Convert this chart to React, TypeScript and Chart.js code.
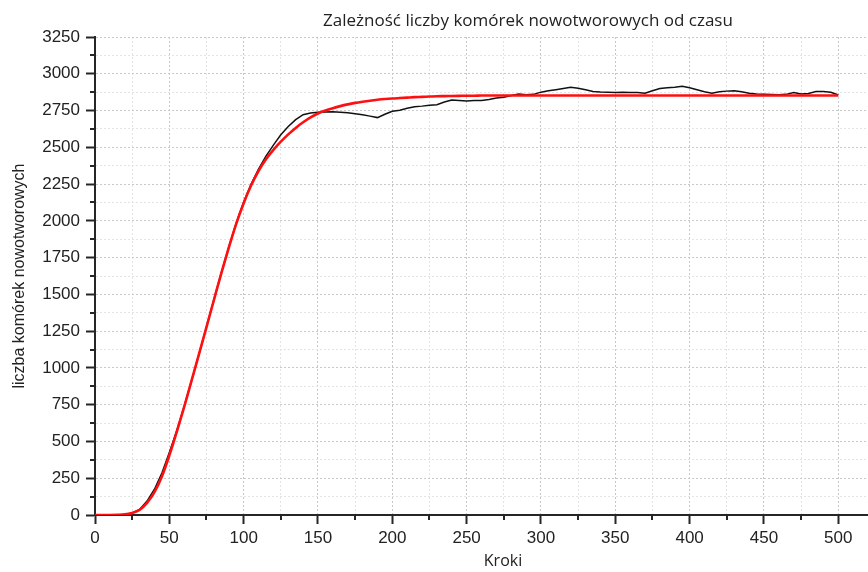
import React, { useEffect, useRef } from "react";
import { Chart, registerables } from "chart.js";

Chart.register(...registerables);

const chartTitle = "Zależność liczby komórek nowotworowych od czasu";
const xAxisTitle = "Kroki";
const yAxisTitle = "liczba komórek nowotworowych";

const steps = [
  0, 5, 10, 15, 20, 25, 30, 35, 40, 45, 50, 55, 60, 65, 70, 75, 80, 85, 90, 95,
  100, 105, 110, 115, 120, 125, 130, 135, 140, 145, 150, 155, 160, 165, 170, 175, 180, 185, 190, 195,
  200, 205, 210, 215, 220, 225, 230, 235, 240, 245, 250, 255, 260, 265, 270, 275, 280, 285, 290, 295,
  300, 305, 310, 315, 320, 325, 330, 335, 340, 345, 350, 355, 360, 365, 370, 375, 380, 385, 390, 395,
  400, 405, 410, 415, 420, 425, 430, 435, 440, 445, 450, 455, 460, 465, 470, 475, 480, 485, 490, 495,
  500,
];

const simulatedCells = [
  0, 0, 0, 1, 4, 14, 38, 95, 175, 285, 425, 575, 740, 915, 1095, 1280, 1465, 1648, 1822, 1985,
  2128, 2250, 2352, 2440, 2515, 2585, 2642, 2688, 2722, 2733, 2738, 2740, 2742, 2738, 2735, 2728, 2722, 2712, 2702, 2725,
  2745, 2752, 2765, 2776, 2780, 2786, 2790, 2808, 2822, 2818, 2815, 2818, 2818, 2825, 2835, 2840, 2852, 2862, 2858, 2860,
  2875, 2885, 2892, 2900, 2908, 2902, 2892, 2880, 2876, 2874, 2873, 2875, 2872, 2873, 2867, 2885, 2900, 2905, 2908, 2915,
  2905, 2892, 2878, 2867, 2878, 2882, 2885, 2878, 2867, 2862, 2860, 2859, 2858, 2860, 2873, 2862, 2866, 2879, 2880, 2874,
  2856,
];

const fittedCells = [
  0, 0, 0, 1, 4, 14, 35, 82, 155, 262, 405, 565, 735, 915, 1095, 1278, 1462, 1645, 1818, 1980,
  2120, 2240, 2338, 2418, 2482, 2538, 2588, 2632, 2670, 2703, 2730, 2750, 2766, 2780, 2792, 2802, 2810, 2817, 2823, 2828,
  2832, 2835, 2838, 2841, 2843, 2845, 2847, 2848, 2849, 2850, 2851, 2851, 2852, 2852, 2852, 2852, 2852, 2852, 2852, 2852,
  2852, 2852, 2852, 2852, 2852, 2852, 2852, 2852, 2852, 2852, 2852, 2852, 2852, 2852, 2852, 2852, 2852, 2852, 2852, 2852,
  2852, 2852, 2852, 2852, 2852, 2852, 2852, 2852, 2852, 2852, 2852, 2852, 2852, 2852, 2852, 2852, 2852, 2852, 2852, 2852,
  2852,
];

const xTickValues = [
  0, 25, 50, 75, 100, 125, 150, 175, 200, 225, 250, 275, 300, 325, 350, 375, 400, 425, 450, 475, 500,
];
const yTickValues = [
  0, 125, 250, 375, 500, 625, 750, 875, 1000, 1125, 1250, 1375, 1500, 1625, 1750, 1875, 2000, 2125,
  2250, 2375, 2500, 2625, 2750, 2875, 3000, 3125, 3250,
];
const xMajorStep = 50;
const yMajorStep = 250;

const TICK_FONT = "'Liberation Sans', Arial, sans-serif";
const AXIS_COLOR = "#262626";

const decorPlugin = {
  id: "decor",
  afterDraw(chart: any) {
    const { ctx, chartArea } = chart;
    const xs = chart.scales.x;
    const ys = chart.scales.y;
    ctx.save();
    ctx.strokeStyle = AXIS_COLOR;
    ctx.lineWidth = 2;
    ctx.beginPath();
    xTickValues.forEach((v) => {
      if (v % xMajorStep !== 0) {
        const px = Math.round(xs.getPixelForValue(v));
        ctx.moveTo(px, chartArea.bottom);
        ctx.lineTo(px, chartArea.bottom + 5);
      }
    });
    yTickValues.forEach((v) => {
      if (v % yMajorStep !== 0) {
        const py = Math.round(ys.getPixelForValue(v));
        ctx.moveTo(chartArea.left, py);
        ctx.lineTo(chartArea.left - 5, py);
      }
    });
    ctx.stroke();

    ctx.fillStyle = "#222";
    ctx.textAlign = "center";
    ctx.textBaseline = "middle";
    ctx.font = "17px 'Open Sans', sans-serif";
    ctx.fillText(chartTitle, 528, 21);
    ctx.font = "16px 'Open Sans', sans-serif";
    ctx.fillText(xAxisTitle, 503, 561);
    ctx.translate(20, 276);
    ctx.rotate(-Math.PI / 2);
    ctx.font = "16px " + TICK_FONT;
    ctx.fillText(yAxisTitle, 0, 0);
    ctx.restore();
  },
};

export default function App() {
  const ref = useRef<HTMLCanvasElement | null>(null);

  useEffect(() => {
    document.body.style.margin = "0";
    const canvas = ref.current;
    if (!canvas) return;
    const chart = new Chart(canvas, {
      type: "line",
      data: {
        datasets: [
          {
            label: "fit",
            data: steps.map((s, i) => ({ x: s, y: fittedCells[i] })),
            borderColor: "#ff1010",
            borderWidth: 2.6,
            pointRadius: 0,
            cubicInterpolationMode: "monotone",
            order: 0,
          },
          {
            label: "symulacja",
            data: steps.map((s, i) => ({ x: s, y: simulatedCells[i] })),
            borderColor: "#111111",
            borderWidth: 1.5,
            pointRadius: 0,
            tension: 0,
            order: 1,
          },
        ],
      },
      options: {
        responsive: false,
        animation: false,
        layout: { padding: { top: 37, right: 0, bottom: 0, left: 0 } },
        plugins: {
          legend: { display: false },
          title: { display: false },
          tooltip: { enabled: false },
        },
        scales: {
          x: {
            type: "linear",
            min: 0,
            max: 520,
            afterBuildTicks: (scale: any) => {
              scale.ticks = xTickValues.map((v) => ({ value: v }));
            },
            afterFit: (scale: any) => {
              scale.height = 57;
            },
            ticks: {
              padding: 4,
              color: "#222",
              font: { family: TICK_FONT, size: 17 },
              maxRotation: 0,
              autoSkip: false,
              callback: (v: any) => (Number(v) % xMajorStep === 0 ? String(v) : ""),
            },
            grid: {
              color: (c: any) => (c.tick && c.tick.value % xMajorStep === 0 ? "#c9c9c9" : "#e4e4e4"),
              lineWidth: 1,
              tickLength: 9,
              tickWidth: 2,
              tickColor: (c: any) => (c.tick && c.tick.value % xMajorStep === 0 ? AXIS_COLOR : "rgba(0,0,0,0)"),
            },
            border: { display: true, color: AXIS_COLOR, width: 2, dash: [2, 2] },
          },
          y: {
            type: "linear",
            min: 0,
            max: 3250,
            afterBuildTicks: (scale: any) => {
              scale.ticks = yTickValues.map((v) => ({ value: v }));
            },
            afterFit: (scale: any) => {
              scale.width = 95;
            },
            ticks: {
              padding: 6,
              color: "#222",
              font: { family: TICK_FONT, size: 17 },
              autoSkip: false,
              callback: (v: any) => (Number(v) % yMajorStep === 0 ? String(v) : ""),
            },
            grid: {
              color: (c: any) => (c.tick && c.tick.value % yMajorStep === 0 ? "#c9c9c9" : "#e4e4e4"),
              lineWidth: 1,
              tickLength: 9,
              tickWidth: 2,
              tickColor: (c: any) => (c.tick && c.tick.value % yMajorStep === 0 ? AXIS_COLOR : "rgba(0,0,0,0)"),
            },
            border: { display: true, color: AXIS_COLOR, width: 2, dash: [2, 2] },
          },
        },
      },
      plugins: [decorPlugin],
    } as any);
    return () => chart.destroy();
  }, []);

  return (
    <div style={{ width: 868, height: 572, background: "#fff" }}>
      <canvas ref={ref} width={868} height={572} style={{ display: "block" }} />
    </div>
  );
}
